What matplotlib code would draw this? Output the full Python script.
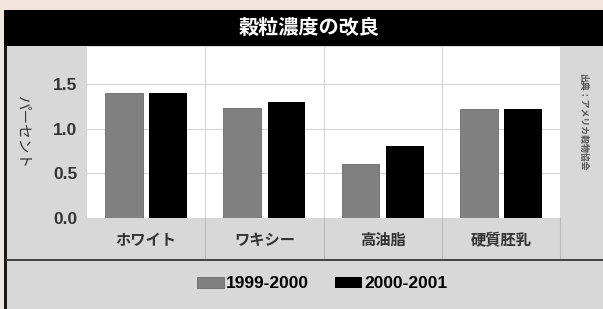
import matplotlib
matplotlib.use('Agg')
import matplotlib.pyplot as plt
from matplotlib.patches import Rectangle

plt.rcParams['font.family'] = ['Noto Sans CJK JP', 'DejaVu Sans']
num_font = ['Liberation Sans', 'DejaVu Sans']

categories = ['ホワイト', 'ワキシー', '高油脂', '硬質胚乳']
series_names = ['1999-2000', '2000-2001']
vals_9900 = [1.40, 1.24, 0.61, 1.22]
vals_0001 = [1.40, 1.30, 0.81, 1.22]
yticks = [0.0, 0.5, 1.0, 1.5]
title = '穀粒濃度の改良'
ylabel = 'パーセント'
source = '出典：アメリカ穀物協会'

W, H = 603, 309
fig = plt.figure(figsize=(W / 100, H / 100), dpi=100)
fig.patch.set_facecolor('#f1e5de')

def fx(px):
    return px / W

def fy(py):
    return 1 - py / H

# panel background, frame, title bar (behind the axes)
fig.patches.append(Rectangle((fx(6), 0), 1 - fx(6), fy(10), transform=fig.transFigure,
                             facecolor='#d8d8d8', edgecolor='none', zorder=-3))
fig.patches.append(Rectangle((fx(4), 0), fx(3), fy(10), transform=fig.transFigure,
                             facecolor='#1a1a1a', edgecolor='none', zorder=-2))
fig.patches.append(Rectangle((fx(4), fy(46)), 1 - fx(4), fy(10) - fy(46), transform=fig.transFigure,
                             facecolor='black', edgecolor='none', zorder=-2))
fig.patches.append(Rectangle((fx(6), fy(261)), 1 - fx(6), fy(258.5) - fy(261), transform=fig.transFigure,
                             facecolor='#444444', edgecolor='none', zorder=-2))
fig.text(fx(309), fy(27), title, color='white', fontsize=14.5, fontweight='bold',
         ha='center', va='center')

# main bar axes
ax = fig.add_axes([fx(87), fy(218), fx(560) - fx(87), fy(47) - fy(218)])
ax.set_facecolor('white')
x = range(len(categories))
w = 0.32
off = 0.187
b1 = ax.bar([i - off for i in x], vals_9900, w, color='#808080', edgecolor='#6a6a6a',
            lw=0.6, label=series_names[0], zorder=3)
b2 = ax.bar([i + off for i in x], vals_0001, w, color='black', label=series_names[1], zorder=3)
ax.set_xlim(-0.5, len(categories) - 0.5)
ax.set_ylim(0, 1.92)
for yv in yticks[1:]:
    ax.axhline(yv, color='#d4d4d4', lw=0.8, zorder=1)
for xv in [0.5, 1.5, 2.5]:
    ax.axvline(xv, color='#d4d4d4', lw=0.8, zorder=1)
ax.set_xticks([])
ax.set_yticks(yticks)
ax.set_yticklabels([f'{v:.1f}' for v in yticks], fontsize=12.5, fontweight='bold',
                   color='#333333', family=num_font)
ax.tick_params(axis='y', length=0, pad=7)
for s in ax.spines.values():
    s.set_visible(False)

# category label band
lab = fig.add_axes([fx(87), fy(258), fx(560) - fx(87), fy(218) - fy(258)])
lab.set_xlim(-0.5, len(categories) - 0.5)
lab.set_ylim(0, 1)
for xv in [0.5, 1.5, 2.5, 3.5]:
    lab.axvline(xv, color='#b8b8b8', lw=0.8, clip_on=False)
for i, c in enumerate(categories):
    lab.text(i, 0.45, c, ha='center', va='center', fontsize=11, fontweight='bold', color='#333333')
lab.axis('off')

fig.text(fx(22), fy(132), ylabel, rotation=270, ha='center', va='center',
         fontsize=10.5, color='#333333')
fig.text(fx(583), fy(122), source, rotation=270, ha='center', va='center',
         fontsize=6.4, fontweight='bold', color='#555555')

fig.legend(handles=[b1, b2], labels=series_names, loc='center', ncol=2,
           bbox_to_anchor=(fx(322), fy(284)), frameon=False,
           prop={'size': 12.5, 'weight': 'bold', 'family': num_font},
           handlelength=1.55, handleheight=0.55, handletextpad=0.12, columnspacing=1.5)

fig.savefig('out.png', dpi=100, facecolor=fig.get_facecolor())
